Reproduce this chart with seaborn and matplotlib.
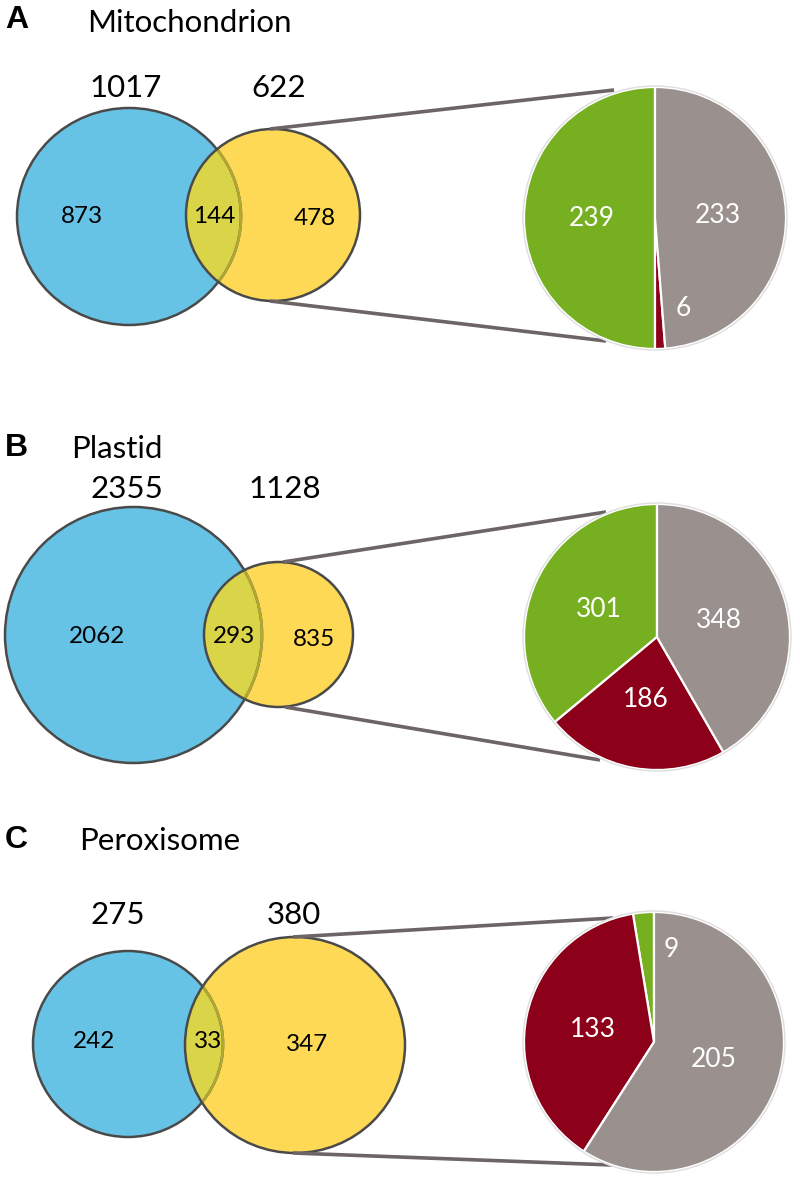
import numpy as np
import matplotlib
matplotlib.use("Agg")
import matplotlib.pyplot as plt
from matplotlib.patches import Ellipse, Circle
import seaborn as sns

# ---------------- data ----------------
panel_letters = ["A", "B", "C"]
panel_titles = ["Mitochondrion", "Plastid", "Peroxisome"]
set1_totals = [1017, 2355, 275]
set2_totals = [622, 1128, 380]
set1_only = [873, 2062, 242]
overlap_counts = [144, 293, 33]
set2_only = [478, 835, 347]
pie_green = [239, 301, 9]
pie_red = [6, 186, 133]
pie_grey = [233, 348, 205]

# ---------------- style ----------------
sns.set_theme(style="white")
plt.rcParams['font.family'] = ['Lato', 'DejaVu Sans']

BLUE = "#67C3E5"
YELLOW = "#FDD955"
OVERLAP = "#DAD548"
EDGE = "#4a4a4a"
OLIVE = "#B3A733"
LINE = "#6d6565"
pie_colors = ["#76B021", "#8C0019", "#9A918E"]

W, H = 800, 1178
fig = plt.figure(figsize=(8, 11.78), dpi=100)
ax = fig.add_axes([0, 0, 1, 1])


def Y(y):
    return H - y


# layout (pixel coordinates, y from top)
layout = [
    dict(letter=(5, 28), title=(87, 32),
         blue=(129, 216.5, 112, 108.5), yellow=(273, 215, 87, 86),
         pie=(655, 218, 131),
         t1=(126, 97), t2=(279, 97),
         l1=(82, 223), l0=(214.5, 223), l2=(315, 225),
         ltop=((270, 129), (614, 90)), lbot=((270, 301), (606, 341))),
    dict(letter=(5, 456), title=(71, 458),
         blue=(133.5, 635, 128.5, 128), yellow=(278.5, 634.5, 74.5, 72.5),
         pie=(657, 637, 133),
         t1=(126.5, 498), t2=(285, 498),
         l1=(97, 643), l0=(234, 643), l2=(314, 646),
         ltop=((283, 562), (606, 512)), lbot=((285, 707), (600, 760))),
    dict(letter=(5, 848), title=(79, 850),
         blue=(128, 1044, 95, 93), yellow=(295, 1045, 110, 108),
         pie=(654, 1042, 130),
         t1=(117.5, 924), t2=(294, 924),
         l1=(94, 1048), l0=(208, 1048), l2=(307.5, 1051),
         ltop=((293, 937), (613, 918)), lbot=((293, 1153), (612, 1165))),
]

for i in range(3):
    L = layout[i]
    # panel letter + title
    ax.text(L["letter"][0], Y(L["letter"][1]), panel_letters[i],
            fontsize=23, fontweight="bold", family=["Liberation Sans", "DejaVu Sans"],
            ha="left", va="baseline", color="black")
    ax.text(L["title"][0], Y(L["title"][1]), panel_titles[i],
            fontsize=22.5, ha="left", va="baseline", color="black")

    bx, by, brx, bry = L["blue"]
    yx, yy, yrx, yry = L["yellow"]

    blue_fill = Ellipse((bx, Y(by)), 2 * brx, 2 * bry, facecolor=BLUE,
                        edgecolor="none", zorder=1)
    ax.add_patch(blue_fill)
    yellow_fill = Ellipse((yx, Y(yy)), 2 * yrx, 2 * yry, facecolor=YELLOW,
                          edgecolor="none", zorder=2)
    ax.add_patch(yellow_fill)
    ov = Ellipse((yx, Y(yy)), 2 * yrx, 2 * yry, facecolor=OVERLAP,
                 edgecolor="none", zorder=3)
    ax.add_patch(ov)
    ov.set_clip_path(blue_fill)
    blue_edge = Ellipse((bx, Y(by)), 2 * brx, 2 * bry, facecolor="none",
                        edgecolor=EDGE, lw=1.8, zorder=4)
    ax.add_patch(blue_edge)
    blue_edge_in = Ellipse((bx, Y(by)), 2 * brx, 2 * bry, facecolor="none",
                           edgecolor=OLIVE, lw=1.9, zorder=5)
    ax.add_patch(blue_edge_in)
    blue_edge_in.set_clip_path(yellow_fill)
    ax.add_patch(Ellipse((yx, Y(yy)), 2 * yrx, 2 * yry, facecolor="none",
                         edgecolor=EDGE, lw=1.8, zorder=6))

    # counts
    ax.text(L["t1"][0], Y(L["t1"][1]), str(set1_totals[i]), fontsize=22.5,
            ha="center", va="baseline", color="black", zorder=10)
    ax.text(L["t2"][0], Y(L["t2"][1]), str(set2_totals[i]), fontsize=22.5,
            ha="center", va="baseline", color="black", zorder=10)
    ax.text(L["l1"][0], Y(L["l1"][1]), str(set1_only[i]), fontsize=17.5,
            ha="center", va="baseline", color="black", zorder=10)
    ax.text(L["l0"][0], Y(L["l0"][1]), str(overlap_counts[i]), fontsize=17.5,
            ha="center", va="baseline", color="black", zorder=10)
    ax.text(L["l2"][0], Y(L["l2"][1]), str(set2_only[i]), fontsize=17.5,
            ha="center", va="baseline", color="black", zorder=10)

    # connector lines
    for (p0, p1) in (L["ltop"], L["lbot"]):
        ax.plot([p0[0], p1[0]], [Y(p0[1]), Y(p1[1])], color=LINE, lw=2.6,
                solid_capstyle="butt", zorder=7)

    # pie
    px, py, pr = L["pie"]
    vals = [pie_green[i], pie_red[i], pie_grey[i]]
    total = sum(vals)
    wedges, _ = ax.pie(vals, colors=pie_colors, startangle=90,
                       counterclock=True, center=(px, Y(py)), radius=pr,
                       wedgeprops=dict(edgecolor="white", linewidth=1.6),
                       frame=True)
    for w in wedges:
        w.set_zorder(8)
    ax.add_patch(Circle((px, Y(py)), pr + 1, facecolor="none",
                        edgecolor="#dedede", lw=1.0, zorder=8))
    for w, v in zip(wedges, vals):
        frac = v / total
        mid = np.deg2rad((w.theta1 + w.theta2) / 2)
        dist = 0.48
        if frac < 0.05:
            # small slices: label sits just beside the slice, on the right side
            mid = mid + (np.deg2rad(15) if np.sin(mid) < 0 else -np.deg2rad(15))
            dist = 0.72
        tx = px + dist * pr * np.cos(mid)
        ty = Y(py) + dist * pr * np.sin(mid)
        ax.text(tx, ty, str(v), fontsize=19, color="white", ha="center",
                va="center", zorder=9)

ax.set_xlim(0, W)
ax.set_ylim(0, H)
ax.set_aspect("auto")
ax.axis("off")
fig.savefig("out.png", dpi=100, facecolor="white")
